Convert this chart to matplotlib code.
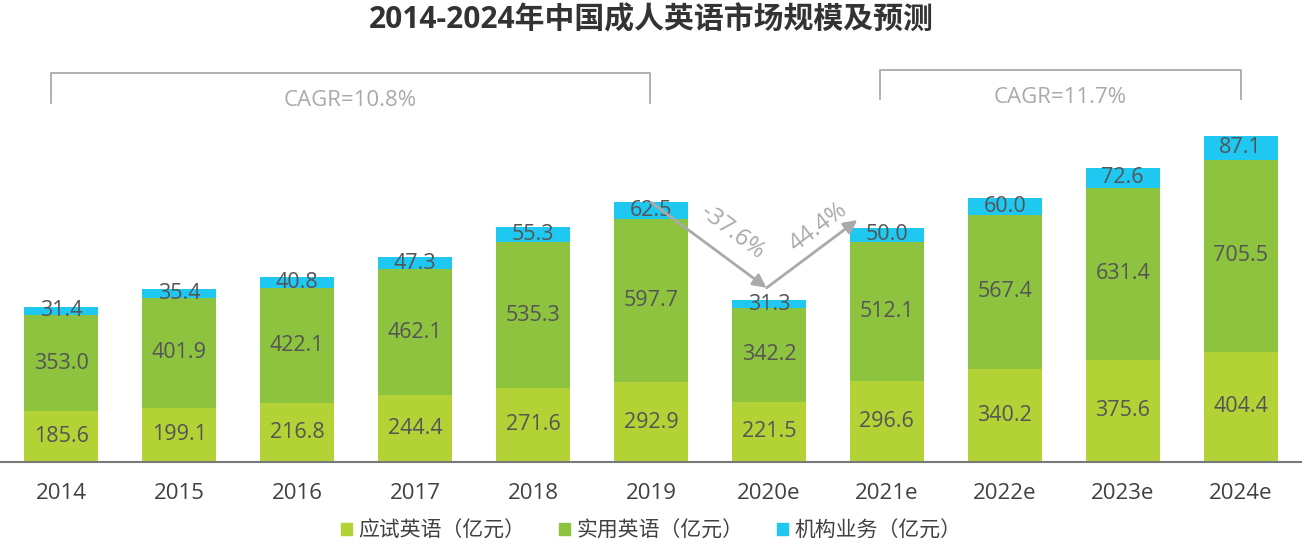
import numpy as np
import matplotlib.pyplot as plt
from matplotlib.patches import Patch

plt.rcParams['font.family'] = ['Open Sans', 'Noto Sans CJK SC', 'DejaVu Sans']

years = ['2014', '2015', '2016', '2017', '2018', '2019',
         '2020e', '2021e', '2022e', '2023e', '2024e']
exam = [185.6, 199.1, 216.8, 244.4, 271.6, 292.9, 221.5, 296.6, 340.2, 375.6, 404.4]
practical = [353.0, 401.9, 422.1, 462.1, 535.3, 597.7, 342.2, 512.1, 567.4, 631.4, 705.5]
institution = [31.4, 35.4, 40.8, 47.3, 55.3, 62.5, 31.3, 50.0, 60.0, 72.6, 87.1]
series_names = ['应试英语（亿元）', '实用英语（亿元）', '机构业务（亿元）']
cagr_labels = ['CAGR=10.8%', 'CAGR=11.7%']
change_labels = ['-37.6%', '44.4%']

colors = ['#B2D235', '#8DC33F', '#1EC8F0']
label_color = '#555555'
grey = '#AAAAAA'

fig = plt.figure(figsize=(13.02, 5.48), dpi=100)
ax = fig.add_axes([0, 86 / 548, 1, (462 - 60) / 548])

x = np.arange(len(years))
w = 0.63
bottom = np.zeros(len(years))
for vals, c in zip([exam, practical, institution], colors):
    vals = np.array(vals)
    ax.bar(x, vals, w, bottom=bottom, color=c, edgecolor='none')
    for xi, b, v in zip(x, bottom, vals):
        ax.text(xi, b + v / 2, f'{v:.1f}', ha='center', va='center',
                fontsize=15.5, color=label_color)
    bottom = bottom + vals

totals = bottom
ax.set_xlim(-0.52, 10.52)
ax.set_ylim(0, 1475)
for s in ['top', 'left', 'right']:
    ax.spines[s].set_visible(False)
ax.spines['bottom'].set_color('#777777')
ax.spines['bottom'].set_linewidth(1.5)
ax.set_yticks([])
ax.set_xticks(x)
ax.set_xticklabels(years, fontsize=16, color='#404040')
ax.tick_params(axis='x', length=0, pad=15)

# CAGR brackets
def bracket(x0, x1, ytop, ybot, label):
    ax.plot([x0, x0, x1, x1], [ybot, ytop, ytop, ybot], color=grey, lw=1.3,
            clip_on=False)
    ax.text((x0 + x1) / 2, ytop - 100, label, ha='center', va='center',
            fontsize=16, color=grey)

bracket(-0.09, 4.99, 1428, 1318, cagr_labels[0])
bracket(6.94, 10.0, 1439, 1332, cagr_labels[1])

# change arrows
arrow_kw = dict(arrowstyle='-|>', color=grey, lw=2, mutation_scale=20,
                shrinkA=0, shrinkB=0)
p0 = (5, totals[5])
p1 = (5.98, 639)
p2 = (6.75, 888)
ax.annotate('', xy=p1, xytext=p0, arrowprops=arrow_kw)
ax.annotate('', xy=p2, xytext=p1, arrowprops=arrow_kw)
ax.text(5.69, 844, change_labels[0], rotation=-37, ha='center', va='center',
        fontsize=17, color=grey)
ax.text(6.42, 862, change_labels[1], rotation=37, ha='center', va='center',
        fontsize=17, color=grey)

fig.text(0.5, 1 - 20 / 548, '2014-2024年中国成人英语市场规模及预测',
         ha='center', va='center', fontsize=21.5, fontweight='bold', color='#333333')

handles = [Patch(color=c) for c in colors]
fig.legend(handles, series_names, loc='center', bbox_to_anchor=(0.5, 1 - 531 / 548),
           ncol=3, frameon=False, fontsize=15, handlelength=0.55, handleheight=0.55,
           handletextpad=0.3, columnspacing=1.6, labelcolor='#404040')

fig.savefig('out.png', dpi=100)
